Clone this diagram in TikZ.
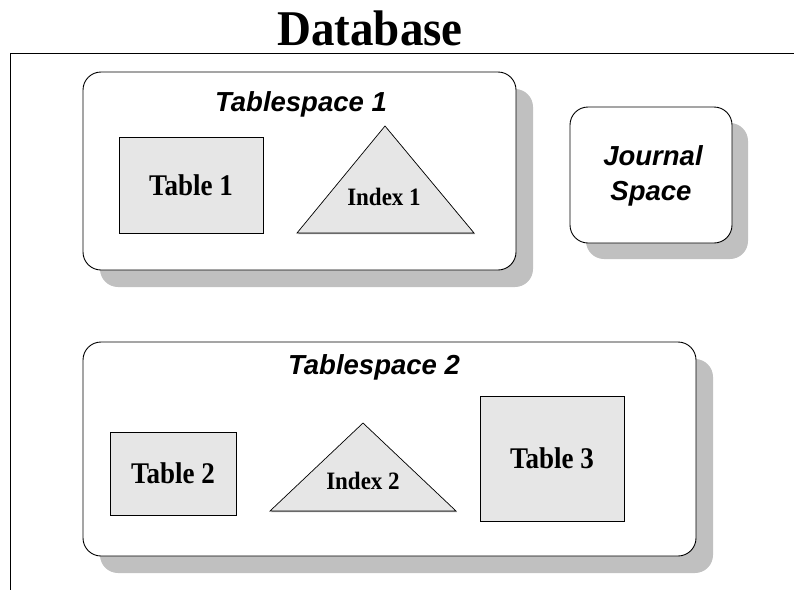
\documentclass[tikz,border=0pt]{standalone}
\usepackage{fontspec}
\usetikzlibrary{shadows}
\setmainfont{Liberation Serif}
\setsansfont{Liberation Sans}
\definecolor{shadowgray}{HTML}{C0C0C0}
\definecolor{objgray}{HTML}{E6E6E6}
\definecolor{edgegray}{HTML}{9A9A9A}
\begin{document}
\begin{tikzpicture}[x=1pt,y=-1pt,
  shadowbox/.style={rectangle, fill=shadowgray, draw=none, rounded corners=18pt, inner sep=0pt},
  spacebox/.style={rectangle, draw=black, line width=0.9pt, fill=white, rounded corners=18pt, inner sep=0pt},
  tbl/.style={rectangle, fill=objgray, draw=black, line width=0.7pt, inner sep=0pt,
    drop shadow={shadow xshift=1.2pt, shadow yshift=-1.2pt, fill=edgegray, opacity=1},
    font=\fontsize{30}{30}\selectfont\bfseries},
  tri/.style={fill=objgray, draw=black, line width=0.7pt, line join=miter},
  idx/.style={anchor=base, inner sep=0pt, font=\fontsize{25}{25}\selectfont\bfseries},
  sp/.style={anchor=base, inner sep=0pt, font=\fontsize{27.5}{27.5}\selectfont\sffamily\bfseries\itshape},
  frameline/.style={draw=black, line width=0.9pt}
]
\useasboundingbox (0,0) rectangle (794,590);

% title
\node[anchor=base, inner sep=0pt, font=\fontsize{50}{50}\selectfont\bfseries] (title) at (370,45) {\scalebox{0.94}[1]{Database}};

% frame
\coordinate (fr1) at (794,53);
\coordinate (fr2) at (10,53);
\coordinate (fr3) at (10,590);
\draw[frameline] (fr1) -- (fr2) -- (fr3);

% Tablespace 1
\node[shadowbox, minimum width=433, minimum height=198] (ts1s) at (316.5,188) {};
\node[spacebox, minimum width=433, minimum height=198] (ts1) at (299.5,171) {};
\node[sp] (ts1l) at (301,111) {Tablespace 1};
\node[tbl, minimum width=144, minimum height=96] (t1) at (191,185) {\scalebox{0.9}[1]{Table 1}};
\coordinate (i1a) at (385,126);
\coordinate (i1b) at (297,233);
\coordinate (i1c) at (474,233);
\fill[edgegray] ([shift={(1.2,1.2)}]i1a) -- ([shift={(1.2,1.2)}]i1b) -- ([shift={(1.2,1.2)}]i1c) -- cycle;
\draw[tri] (i1a) -- (i1b) -- (i1c) -- cycle;
\node[idx] (i1l) at (384,205) {\scalebox{0.92}[1]{Index 1}};

% Journal space
\node[shadowbox, minimum width=162, minimum height=136] (js) at (667,191) {};
\node[spacebox, minimum width=162, minimum height=136] (j) at (651,175) {};
\node[sp] (jl1) at (653,165) {Journal};
\node[sp] (jl2) at (651,200) {Space};

% Tablespace 2
\node[shadowbox, minimum width=613, minimum height=214] (ts2s) at (406.5,466) {};
\node[spacebox, minimum width=613, minimum height=214] (ts2) at (389.5,449) {};
\node[sp] (ts2l) at (374,374) {Tablespace 2};
\node[tbl, minimum width=126, minimum height=83] (t2) at (173,473.5) {\scalebox{0.9}[1]{Table 2}};
\coordinate (i2a) at (363,423);
\coordinate (i2b) at (270,511);
\coordinate (i2c) at (456,511);
\fill[edgegray] ([shift={(1.2,1.2)}]i2a) -- ([shift={(1.2,1.2)}]i2b) -- ([shift={(1.2,1.2)}]i2c) -- cycle;
\draw[tri] (i2a) -- (i2b) -- (i2c) -- cycle;
\node[idx] (i2l) at (363,489) {\scalebox{0.92}[1]{Index 2}};
\node[tbl, minimum width=144, minimum height=125] (t3) at (552,458.5) {\scalebox{0.9}[1]{Table 3}};
\end{tikzpicture}
\end{document}
